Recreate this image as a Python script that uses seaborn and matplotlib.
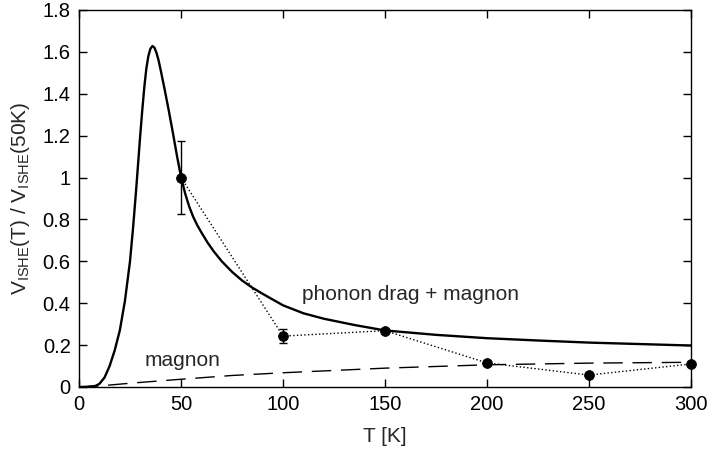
import numpy as np
import pandas as pd
import matplotlib
matplotlib.use("Agg")
import matplotlib.pyplot as plt
import seaborn as sns
from matplotlib.ticker import FormatStrFormatter, MultipleLocator

# model curve: phonon drag + magnon
T_MODEL = [0, 4, 8, 10, 12.5, 15, 17.5, 20, 22.5, 25, 26.5, 28, 29, 30, 31, 32,
           33, 34, 35, 36, 37, 38, 39, 40, 42, 44, 46, 48, 50, 52, 54, 56, 58,
           60, 63, 66, 70, 75, 80, 85, 90, 100, 110, 120, 135, 150, 175, 200,
           225, 250, 275, 300]
V_MODEL = [0, 0.001, 0.005, 0.015, 0.045, 0.1, 0.175, 0.27, 0.41, 0.6, 0.76,
           0.94, 1.07, 1.2, 1.32, 1.43, 1.52, 1.58, 1.615, 1.628, 1.62, 1.595,
           1.56, 1.515, 1.42, 1.32, 1.215, 1.105, 1.004, 0.925, 0.862, 0.812,
           0.772, 0.738, 0.69, 0.648, 0.6, 0.55, 0.508, 0.474, 0.445, 0.39,
           0.352, 0.326, 0.296, 0.27, 0.249, 0.233, 0.222, 0.212, 0.205, 0.198]

# magnon-only contribution
T_MAGNON = [0, 10, 25, 50, 75, 100, 150, 200, 250, 300]
V_MAGNON = [0, 0.005, 0.018, 0.037, 0.055, 0.068, 0.09, 0.106, 0.114, 0.118]

# measured points
T_DATA = [50, 100, 150, 200, 250, 300]
V_DATA = [1.0, 0.243, 0.269, 0.115, 0.057, 0.11]
V_ERR = [0.173, 0.035, 0, 0, 0, 0]

sns.set_theme(style="ticks")
plt.rcParams["font.family"] = ["Liberation Sans", "DejaVu Sans"]
plt.rcParams["mathtext.default"] = "regular"

model_df = pd.DataFrame({"T": T_MODEL, "V": V_MODEL})
magnon_df = pd.DataFrame({"T": T_MAGNON, "V": V_MAGNON})
data_df = pd.DataFrame({"T": T_DATA, "V": V_DATA, "err": V_ERR})

fig = plt.figure(figsize=(7.07, 4.5), dpi=100)
ax = fig.add_axes([79 / 707, 1 - 387 / 450, 612 / 707, 377 / 450])

sns.lineplot(data=model_df, x="T", y="V", color="black", linewidth=1.7, ax=ax)
sns.lineplot(data=magnon_df, x="T", y="V", color="black", linewidth=1.0, ax=ax)
ax.lines[-1].set_dashes((14, 7))
sns.lineplot(data=data_df, x="T", y="V", color="black", linewidth=1.0,
             linestyle=":", ax=ax)
ax.errorbar(data_df["T"], data_df["V"], yerr=data_df["err"], fmt="none",
            ecolor="black", elinewidth=1.0, capsize=3, capthick=1.0)
sns.scatterplot(data=data_df, x="T", y="V", color="black", s=50,
                edgecolor="black", zorder=5, ax=ax, clip_on=False)

ax.text(109.5, 0.415, "phonon drag + magnon", fontsize=15, va="baseline")
ax.text(32, 0.10, "magnon", fontsize=15, va="baseline")

ax.set_xlim(0, 300)
ax.set_ylim(0, 1.8)
ax.xaxis.set_major_locator(MultipleLocator(50))
ax.yaxis.set_major_locator(MultipleLocator(0.2))
ax.yaxis.set_major_formatter(FormatStrFormatter("%g"))
ax.tick_params(direction="in", top=True, right=True, length=6, width=1,
               labelsize=14.5, colors="black", pad=6)
for s in ax.spines.values():
    s.set_visible(True)
    s.set_color("black")
    s.set_linewidth(1.0)

ax.set_xlabel("T [K]", fontsize=15, labelpad=9)
ax.set_ylabel("V$_{ISHE}$(T) / V$_{ISHE}$(50K)", fontsize=15, labelpad=8)

fig.savefig("out.png", dpi=100)
